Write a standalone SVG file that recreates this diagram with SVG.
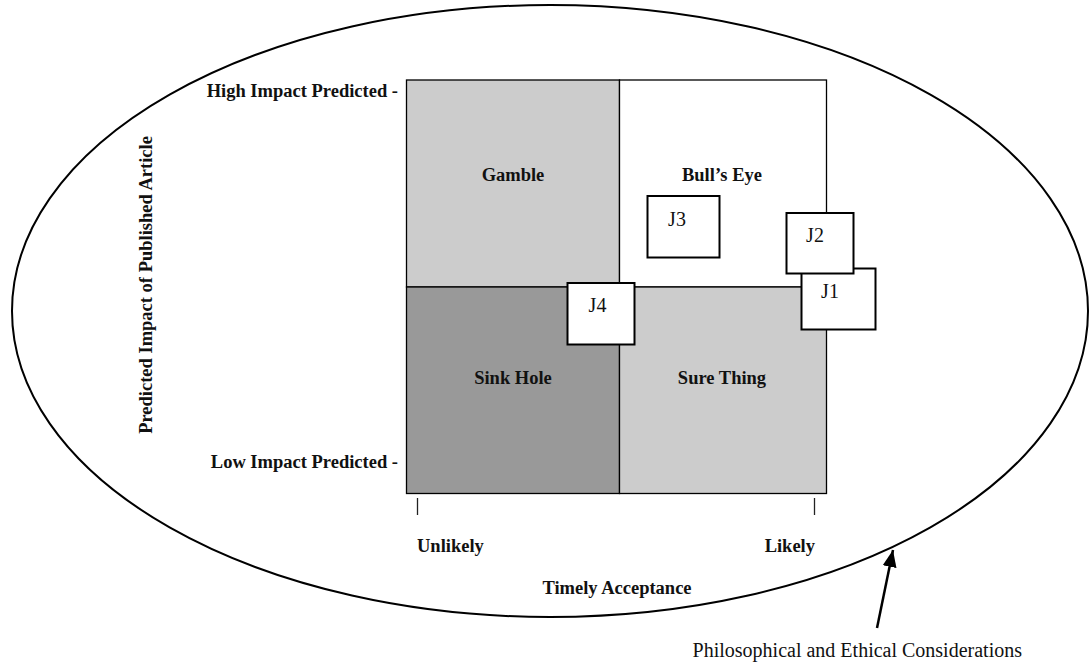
<svg xmlns="http://www.w3.org/2000/svg" width="1089" height="663" viewBox="0 0 1089 663">
  <style>
    .lbl { font-family: "Liberation Serif", "Times New Roman", serif; font-weight: bold; font-size: 18.5px; fill: #111; }
    .jt { font-family: "Liberation Serif", "Times New Roman", serif; font-size: 20px; fill: #111; text-anchor: middle; }
    .reg { font-family: "Liberation Serif", "Times New Roman", serif; font-size: 20px; fill: #111; }
    .quad { stroke: #000; stroke-width: 1.3; }
    .jbox { fill: #fff; stroke: #000; stroke-width: 2; }
    .tick { stroke: #222; stroke-width: 1.3; }
  </style>
  <defs>
    <marker id="arrow" markerUnits="userSpaceOnUse" markerWidth="18" markerHeight="16" refX="17" refY="8" orient="auto">
      <path d="M0,1 L17,8 L0,15 Z" fill="#000"/>
    </marker>
  </defs>
  <rect width="1089" height="663" fill="#fff"/>

  <g id="boundary">
    <ellipse cx="550" cy="311" rx="538" ry="306" fill="none" stroke="#000" stroke-width="2"/>
  </g>

  <g id="quadrants">
    <rect id="gamble" class="quad" x="406.5" y="80" width="213" height="207" fill="#cccccc"/>
    <rect id="bullseye" class="quad" x="619.5" y="80" width="207" height="207" fill="#ffffff"/>
    <rect id="sinkhole" class="quad" x="406.5" y="287" width="213" height="206.5" fill="#999999"/>
    <rect id="surething" class="quad" x="619.5" y="287" width="207" height="206.5" fill="#cccccc"/>
    <text class="lbl" x="513" y="181" text-anchor="middle">Gamble</text>
    <text class="lbl" x="722" y="181" text-anchor="middle">Bull’s Eye</text>
    <text class="lbl" x="513" y="384" text-anchor="middle">Sink Hole</text>
    <text class="lbl" x="722" y="384" text-anchor="middle">Sure Thing</text>
  </g>

  <g id="axes">
    <text class="lbl" x="398" y="97" text-anchor="end">High Impact Predicted -</text>
    <text class="lbl" x="398" y="468" text-anchor="end">Low Impact Predicted -</text>
    <text class="lbl" transform="translate(152,285) rotate(-90)" text-anchor="middle">Predicted Impact of Published Article</text>
    <line class="tick" x1="417.5" y1="498" x2="417.5" y2="515"/>
    <line class="tick" x1="814.5" y1="498" x2="814.5" y2="515"/>
    <text class="lbl" x="417" y="552">Unlikely</text>
    <text class="lbl" x="815" y="552" text-anchor="end">Likely</text>
    <text class="lbl" x="617" y="594" text-anchor="middle">Timely Acceptance</text>
  </g>

  <g id="J3">
    <rect class="jbox" x="647.5" y="196" width="72" height="61.5"/>
    <text class="jt" x="677" y="226">J3</text>
  </g>
  <g id="J1">
    <rect class="jbox" x="801.5" y="268.5" width="74" height="61"/>
    <text class="jt" x="830" y="298">J1</text>
  </g>
  <g id="J2">
    <rect class="jbox" x="786.5" y="213" width="67" height="60.5"/>
    <text class="jt" x="815" y="242">J2</text>
  </g>
  <g id="J4">
    <rect class="jbox" x="567.5" y="283" width="67" height="61.5"/>
    <text class="jt" x="597.5" y="312">J4</text>
  </g>

  <g id="connectors">
    <line x1="877" y1="628" x2="893" y2="550" stroke="#000" stroke-width="2.5" marker-end="url(#arrow)"/>
  </g>

  <g id="note">
    <text class="reg" x="1022" y="657" text-anchor="end">Philosophical and Ethical Considerations</text>
  </g>
</svg>
